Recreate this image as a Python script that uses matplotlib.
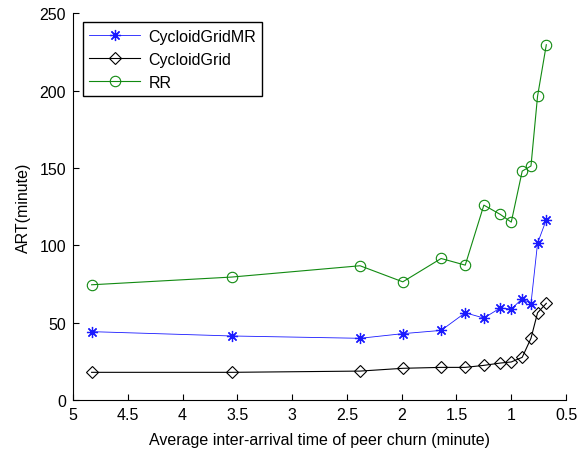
import matplotlib
matplotlib.use("Agg")
import matplotlib.pyplot as plt

plt.rcParams['font.family'] = ['Liberation Sans', 'DejaVu Sans']

# inter-arrival time of peer churn (minute)
churn = [4.83, 3.55, 2.38, 1.99, 1.64, 1.42, 1.25, 1.10, 1.00, 0.90, 0.82, 0.76, 0.68]

cycloid_mr = [44.2, 41.4, 39.9, 42.9, 45.0, 56.4, 53.0, 59.5, 58.8, 65.5, 62.3, 101.3, 116.6]
cycloid = [17.9, 17.9, 18.7, 20.5, 21.1, 21.1, 22.4, 23.9, 24.6, 27.6, 39.9, 56.4, 62.5]
rr = [74.5, 79.5, 86.8, 76.4, 91.5, 87.2, 126.0, 120.0, 115.0, 148.0, 151.3, 196.4, 229.7]

x_ticks = [5, 4.5, 4, 3.5, 3, 2.5, 2, 1.5, 1, 0.5]
x_tick_labels = ['5', '4.5', '4', '3.5', '3', '2.5', '2', '1.5', '1', '0.5']
y_ticks = [0, 50, 100, 150, 200, 250]

fs = 11.5

fig = plt.figure(figsize=(5.77, 4.52), dpi=100)
ax = fig.add_axes([0.1265, 0.1128, 0.8545, 0.8555])

ax.plot(churn, cycloid_mr, color='#1a1aff', lw=0.6, marker=(8, 2, 0), ms=8,
        markeredgewidth=0.9, label='CycloidGridMR')
ax.plot(churn, cycloid, color='black', lw=0.8, marker='D', ms=6.5,
        markerfacecolor='none', markeredgewidth=0.8, label='CycloidGrid')
ax.plot(churn, rr, color='#118a11', lw=0.8, marker='o', ms=7.5,
        markerfacecolor='none', markeredgewidth=0.8, label='RR')

ax.set_xlim(5, 0.5)
ax.set_ylim(0, 250)
ax.set_xticks(x_ticks)
ax.set_xticklabels(x_tick_labels)
ax.set_yticks(y_ticks)
ax.tick_params(direction='in', labelsize=fs, length=4, width=0.8, pad=5)
for side in ('top', 'right'):
    ax.spines[side].set_visible(False)
for side in ('left', 'bottom'):
    ax.spines[side].set_linewidth(0.8)

ax.set_xlabel('Average inter-arrival time of peer churn (minute)', fontsize=fs, labelpad=7)
ax.set_ylabel('ART(minute)', fontsize=fs, labelpad=6)

leg = ax.legend(loc='upper left', bbox_to_anchor=(0.02, 0.977), borderaxespad=0,
                fontsize=fs, fancybox=False, framealpha=1, edgecolor='black',
                handlelength=3.2, handletextpad=0.5, borderpad=0.4,
                labelspacing=0.5)
leg.get_frame().set_linewidth(1.0)

fig.savefig('out.png', dpi=100)
